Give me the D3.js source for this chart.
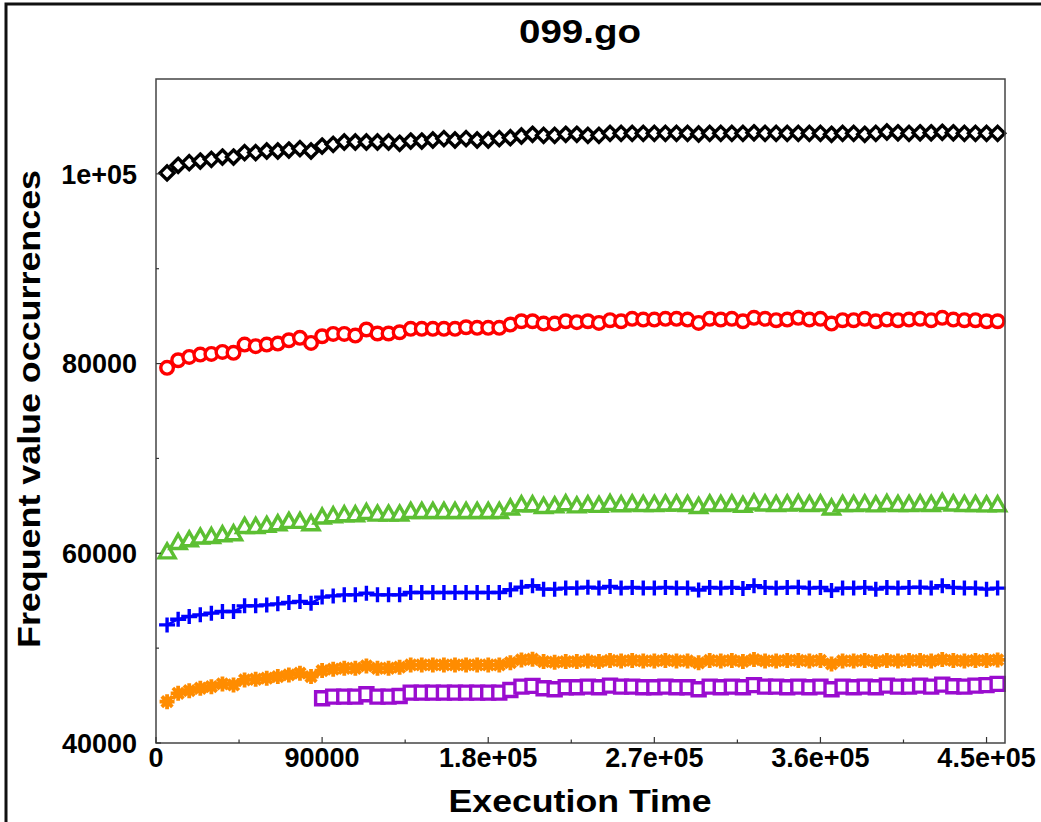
<!DOCTYPE html>
<html>
<head>
<meta charset="utf-8">
<script src="https://cdn.jsdelivr.net/npm/d3@7"></script>
<style>
  html, body { margin: 0; padding: 0; background: #fff; }
  svg { display: block; }
  text { font-family: Arial, "Liberation Sans", sans-serif; font-weight: bold; fill: #000; }
</style>
</head>
<body>
<svg id="chart" width="1041" height="822"></svg>
<script>
// sample times (execution time) shared by all series
var times = [
  6000, 12000, 18000, 24000, 30000, 36000, 42000, 48000, 54000, 60000,
  66000, 72000, 78000, 84000, 90000, 96000, 102000, 108000, 114000, 120000,
  126000, 132000, 138000, 144000, 150000, 156000, 162000, 168000, 174000, 180000,
  186000, 192000, 198000, 204000, 210000, 216000, 222000, 228000, 234000, 240000,
  246000, 252000, 258000, 264000, 270000, 276000, 282000, 288000, 294000, 300000,
  306000, 312000, 318000, 324000, 330000, 336000, 342000, 348000, 354000, 360000,
  366000, 372000, 378000, 384000, 390000, 396000, 402000, 408000, 414000, 420000,
  426000, 432000, 438000, 444000, 450000, 456000
];

var blackSeries = [
  100100, 100900, 101180, 101350, 101530, 101770, 101770, 102240, 102240, 102410,
  102410, 102510, 102660, 102410, 102930, 103110, 103360, 103360, 103360, 103360,
  103360, 103220, 103460, 103460, 103570, 103710, 103570, 103710, 103570, 103570,
  103710, 103810, 103990, 104170, 104060, 104060, 104170, 104170, 104060, 104060,
  104270, 104270, 104270, 104270, 104270, 104270, 104270, 104270, 104200, 104270,
  104270, 104270, 104270, 104330, 104270, 104270, 104270, 104270, 104270, 104270,
  104170, 104270, 104270, 104170, 104270, 104410, 104330, 104270, 104330, 104330,
  104380, 104330, 104270, 104270, 104270, 104270
];

var redSeries = [
  79550, 80350, 80700, 80950, 81020, 81230, 81130, 82000, 81830, 82000,
  82110, 82460, 82710, 82180, 82880, 83130, 83130, 82950, 83590, 83170,
  83170, 83300, 83660, 83660, 83660, 83660, 83660, 83830, 83770, 83770,
  83770, 84110, 84460, 84460, 84220, 84220, 84460, 84360, 84460, 84290,
  84570, 84460, 84720, 84640, 84640, 84720, 84720, 84640, 84290, 84720,
  84640, 84720, 84460, 84820, 84720, 84570, 84640, 84820, 84640, 84720,
  84220, 84570, 84570, 84720, 84460, 84640, 84570, 84640, 84720, 84570,
  84820, 84640, 84570, 84570, 84460, 84460
];

var greenSeries = [
  60150, 61140, 61420, 61710, 61770, 61950, 62060, 62830, 62830, 62940,
  63110, 63360, 63360, 63110, 63820, 63960, 64060, 64060, 64300, 64130,
  64130, 64130, 64410, 64410, 64410, 64410, 64410, 64410, 64410, 64410,
  64410, 64770, 65120, 65120, 64940, 65000, 65220, 65000, 65120, 65050,
  65250, 65120, 65200, 65150, 65150, 65200, 65200, 65150, 64940, 65200,
  65150, 65200, 65050, 65300, 65200, 65150, 65200, 65250, 65150, 65200,
  64770, 65150, 65150, 65200, 65100, 65250, 65150, 65150, 65200, 65150,
  65360, 65200, 65150, 65150, 65100, 65120
];

var blueSeries = [
  52450, 53050, 53330, 53510, 53690, 53860, 53860, 54460, 54460, 54560,
  54670, 54810, 54910, 54740, 55380, 55510, 55620, 55620, 55800, 55620,
  55620, 55620, 55860, 55860, 55860, 55860, 55860, 55860, 55860, 55860,
  55860, 56150, 56430, 56570, 56220, 56220, 56330, 56330, 56430, 56330,
  56500, 56330, 56400, 56330, 56330, 56400, 56330, 56330, 56120, 56400,
  56330, 56400, 56300, 56570, 56400, 56330, 56400, 56430, 56330, 56400,
  56070, 56330, 56330, 56400, 56220, 56400, 56330, 56400, 56430, 56330,
  56570, 56400, 56330, 56330, 56220, 56330
];

var orangeSeries = [
  44360, 45240, 45520, 45770, 45940, 46230, 46120, 46650, 46720, 46830,
  47000, 47180, 47360, 47000, 47630, 47780, 47880, 47880, 48130, 47880,
  47880, 47990, 48230, 48230, 48230, 48230, 48230, 48230, 48230, 48230,
  48230, 48470, 48760, 48830, 48580, 48520, 48580, 48580, 48650, 48580,
  48700, 48650, 48700, 48650, 48650, 48700, 48650, 48650, 48450, 48700,
  48650, 48700, 48600, 48800, 48650, 48650, 48700, 48700, 48650, 48700,
  48340, 48650, 48650, 48700, 48600, 48700, 48650, 48700, 48700, 48650,
  48800, 48700, 48650, 48700, 48700, 48760
];

// purple starts at the 15th sample (90000)
var purpleStart = 14;
var purpleSeries = [
  44720, 44890, 44890, 44890, 45140, 44890,
  44890, 44960, 45310, 45310, 45310, 45310, 45310, 45310, 45310, 45310,
  45310, 45590, 45940, 46020, 45770, 45670, 45880, 45880, 45940, 45880,
  46050, 45940, 45940, 45880, 45880, 45940, 45880, 45880, 45670, 45940,
  45880, 45940, 45880, 46100, 45940, 45940, 45880, 45940, 45880, 45940,
  45670, 45940, 45880, 45940, 45880, 46050, 45940, 45940, 46050, 45940,
  46150, 45990, 45940, 46050, 46100, 46230
];

var xTicks = [0, 90000, 180000, 270000, 360000, 450000];
var xTickLabels = ["0", "90000", "1.8e+05", "2.7e+05", "3.6e+05", "4.5e+05"];
var xMinorTicks = [45000, 135000, 225000, 315000, 405000];
var yTicks = [40000, 60000, 80000, 100000];
var yTickLabels = ["40000", "60000", "80000", "1e+05"];
var yMinorTicks = [50000, 70000, 90000];

var titleText = "099.go",
    xTitle = "Execution Time",
    yTitle = "Frequent value occurrences";

var margin = {top: 79, right: 36, bottom: 79, left: 156},
    width = 1041 - margin.left - margin.right,
    height = 822 - margin.top - margin.bottom;

var svg = d3.select("#chart");

// outer frame of the figure
svg.append("rect")
    .attr("x", 6)
    .attr("y", 4)
    .attr("width", 1100)
    .attr("height", 900)
    .attr("fill", "none")
    .attr("stroke", "#111")
    .attr("stroke-width", 3);

var x = d3.scaleLinear().domain([0, 460000]).range([0, width]);
var y = d3.scaleLinear().domain([40000, 110000]).range([height, 0]);

var g = svg.append("g")
    .attr("transform", "translate(" + margin.left + "," + margin.top + ")");

// markers, drawn around (0,0)
var markers = {
  diamond: "M0,-7L7,0L0,7L-7,0Z",
  triangle: "M0,-8L8,6L-8,6Z",
  plus: "M-8,0H8M0,-7.5V7.5",
  star: "M-7.5,0H7.5M0,-7.5V7.5M-5.3,-5.3L5.3,5.3M-5.3,5.3L5.3,-5.3",
  square: "M-6.5,-6.5H6.5V6.5H-6.5Z"
};

var series = [
  {name: "black", color: "#000", marker: "diamond", start: 0, values: blackSeries},
  {name: "red", color: "#ff0000", marker: "circle", start: 0, values: redSeries},
  {name: "green", color: "#5cbf32", marker: "triangle", start: 0, values: greenSeries},
  {name: "blue", color: "#0000ff", marker: "plus", start: 0, values: blueSeries},
  {name: "orange", color: "#ff8c00", marker: "star", start: 0, values: orangeSeries},
  {name: "purple", color: "#9a0ccf", marker: "square", start: purpleStart, values: purpleSeries}
];

var line = d3.line()
    .x(function(d) { return x(d[0]); })
    .y(function(d) { return y(d[1]); });

series.forEach(function(s) {
  var pts = s.values.map(function(v, i) { return [times[s.start + i], v]; });
  var sg = g.append("g").attr("class", "series-" + s.name);

  sg.append("path")
      .datum(pts)
      .attr("d", line)
      .attr("fill", "none")
      .attr("stroke", s.color)
      .attr("stroke-width", 2.5);

  var m = sg.selectAll(".marker").data(pts).enter();
  if (s.marker === "circle") {
    m.append("circle")
        .attr("cx", function(d) { return x(d[0]); })
        .attr("cy", function(d) { return y(d[1]); })
        .attr("r", 6.3)
        .attr("fill", "#fff")
        .attr("stroke", s.color)
        .attr("stroke-width", 3.4);
  } else {
    var open = s.marker === "plus" || s.marker === "star";
    m.append("path")
        .attr("d", markers[s.marker])
        .attr("transform", function(d) { return "translate(" + x(d[0]) + "," + y(d[1]) + ")"; })
        .attr("fill", open ? "none" : "#fff")
        .attr("stroke", s.color)
        .attr("stroke-width", s.marker === "star" ? 3.8 : 3.4);
  }
});

// plot box
g.append("rect")
    .attr("width", width)
    .attr("height", height)
    .attr("fill", "none")
    .attr("stroke", "#444")
    .attr("stroke-width", 1.5);

// x ticks, pointing inward
g.selectAll(".xtick").data(xTicks).enter().append("line")
    .attr("x1", function(d) { return x(d); })
    .attr("x2", function(d) { return x(d); })
    .attr("y1", height)
    .attr("y2", height - 6)
    .attr("stroke", "#333")
    .attr("stroke-width", 1.2);
g.selectAll(".xminor").data(xMinorTicks).enter().append("line")
    .attr("x1", function(d) { return x(d); })
    .attr("x2", function(d) { return x(d); })
    .attr("y1", height)
    .attr("y2", height - 3.5)
    .attr("stroke", "#333")
    .attr("stroke-width", 1.2);
g.selectAll(".xlabel").data(xTicks).enter().append("text")
    .attr("x", function(d) { return x(d); })
    .attr("y", height + 24)
    .attr("text-anchor", "middle")
    .style("font-size", "27px")
    .text(function(d, i) { return xTickLabels[i]; });

// y ticks
g.selectAll(".ytick").data(yTicks).enter().append("line")
    .attr("x1", 0)
    .attr("x2", 5)
    .attr("y1", function(d) { return y(d); })
    .attr("y2", function(d) { return y(d); })
    .attr("stroke", "#333")
    .attr("stroke-width", 1.2);
g.selectAll(".yminor").data(yMinorTicks).enter().append("line")
    .attr("x1", 0)
    .attr("x2", 3)
    .attr("y1", function(d) { return y(d); })
    .attr("y2", function(d) { return y(d); })
    .attr("stroke", "#333")
    .attr("stroke-width", 1.2);
g.selectAll(".ylabel").data(yTicks).enter().append("text")
    .attr("x", -19)
    .attr("y", function(d) { return y(d); })
    .attr("dy", "0.36em")
    .attr("text-anchor", "end")
    .style("font-size", "27px")
    .text(function(d, i) { return yTickLabels[i]; });

// titles
svg.append("text")
    .attr("x", 580)
    .attr("y", 43)
    .attr("text-anchor", "middle")
    .attr("textLength", 122)
    .attr("lengthAdjust", "spacingAndGlyphs")
    .style("font-size", "33px")
    .text(titleText);

svg.append("text")
    .attr("x", 580)
    .attr("y", 812)
    .attr("text-anchor", "middle")
    .attr("textLength", 263)
    .attr("lengthAdjust", "spacingAndGlyphs")
    .style("font-size", "32px")
    .text(xTitle);

svg.append("text")
    .attr("transform", "translate(40,409) rotate(-90)")
    .attr("text-anchor", "middle")
    .attr("textLength", 478)
    .attr("lengthAdjust", "spacingAndGlyphs")
    .style("font-size", "32px")
    .text(yTitle);
</script>
</body>
</html>
